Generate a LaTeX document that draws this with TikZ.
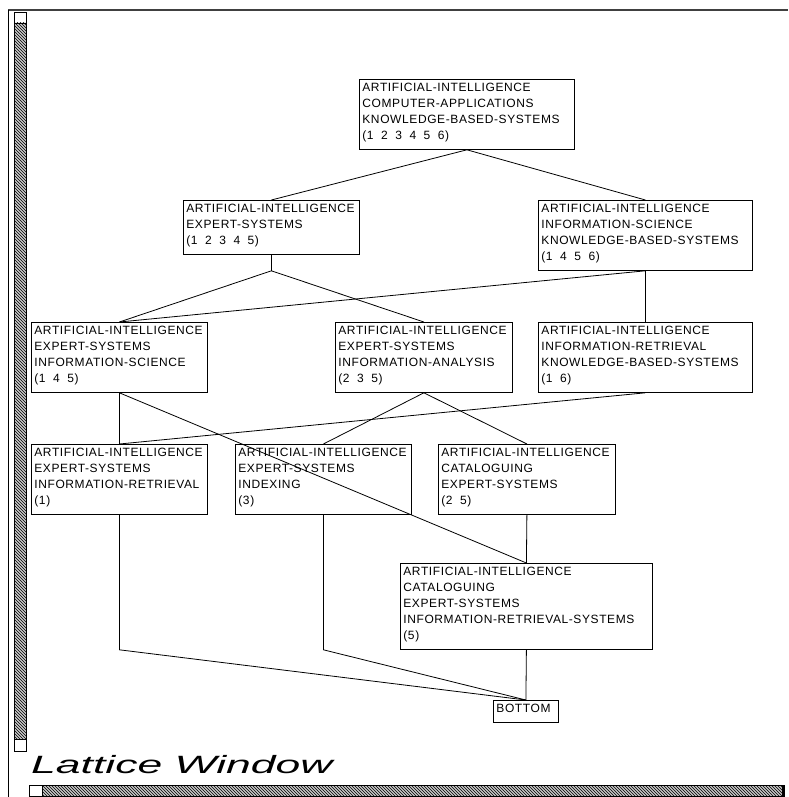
\documentclass[tikz,border=0pt]{standalone}
\usepackage{fontspec}
\setmainfont{Liberation Sans}
\newfontfamily\boxfont[LetterSpace=5]{Liberation Sans}
\newfontfamily\titlefont{Liberation Sans}
\usetikzlibrary{patterns}
\exhyphenpenalty=10000
\hyphenpenalty=10000
\newcommand\tstr{\rule{0pt}{12pt}}
\newcommand\bstr{\rule[-10pt]{0pt}{10pt}}
\newcommand\gp{\hspace{7.5pt}}
\tikzset{
  lbox/.style={draw, line width=0.8pt, anchor=north west, inner xsep=3pt, inner ysep=0pt,
    align=left, font=\boxfont\fontsize{12}{16}\selectfont,
    execute at begin node=\tstr, execute at end node=\bstr},
  edge/.style={line width=0.8pt},
  chrome/.style={line width=0.8pt},
  hatch/.style={chrome, preaction={fill=black!22}, pattern=north west lines},
}
\begin{document}
\begin{tikzpicture}[x=1pt,y=-1pt]
\useasboundingbox (0,0) rectangle (788,797);
% window chrome
\draw[line width=2pt, black!75] (8,10) -- (788,10);
\draw[chrome] (8.5,10) -- (8.5,797);
\draw[chrome] (14,12) rectangle (26,23);
\draw[hatch] (14,23) rectangle (26,739);
\draw[chrome] (14,739) rectangle (26,751);
\draw[chrome] (29,785) rectangle (42,796.6);
\draw[hatch] (42,785) rectangle (782,796.6);
\draw[line width=1.6pt] (784,785) -- (784,796.6);
\node[anchor=base west, inner sep=0pt, font=\titlefont\itshape\fontsize{25}{25}\selectfont] (title) at (31,773) {\scalebox{1.78}[1]{Lattice Window}};
% lattice boxes
\node[lbox, text width=209pt] (top) at (359,79)
  {ARTIFICIAL-INTELLIGENCE\\COMPUTER-APPLICATIONS\\KNOWLEDGE-BASED-SYSTEMS\\(1\gp 2\gp 3\gp 4\gp 5\gp 6)};
\node[lbox, text width=170pt] (e12345) at (183,200)
  {ARTIFICIAL-INTELLIGENCE\\EXPERT-SYSTEMS\\(1\gp 2\gp 3\gp 4\gp 5)};
\node[lbox, text width=208pt] (e1456) at (538,200)
  {ARTIFICIAL-INTELLIGENCE\\INFORMATION-SCIENCE\\KNOWLEDGE-BASED-SYSTEMS\\(1\gp 4\gp 5\gp 6)};
\node[lbox, text width=170pt] (e145) at (31,322)
  {ARTIFICIAL-INTELLIGENCE\\EXPERT-SYSTEMS\\INFORMATION-SCIENCE\\(1\gp 4\gp 5)};
\node[lbox, text width=171pt] (e235) at (335,322)
  {ARTIFICIAL-INTELLIGENCE\\EXPERT-SYSTEMS\\INFORMATION-ANALYSIS\\(2\gp 3\gp 5)};
\node[lbox, text width=208pt] (e16) at (538,322)
  {ARTIFICIAL-INTELLIGENCE\\INFORMATION-RETRIEVAL\\KNOWLEDGE-BASED-SYSTEMS\\(1\gp 6)};
\node[lbox, text width=170pt] (e1) at (31,444)
  {ARTIFICIAL-INTELLIGENCE\\EXPERT-SYSTEMS\\INFORMATION-RETRIEVAL\\(1)};
\node[lbox, text width=170pt] (e3) at (235,444)
  {ARTIFICIAL-INTELLIGENCE\\EXPERT-SYSTEMS\\INDEXING\\(3)};
\node[lbox, text width=171pt] (e25) at (438,444)
  {ARTIFICIAL-INTELLIGENCE\\CATALOGUING\\EXPERT-SYSTEMS\\(2\gp 5)};
\node[lbox, text width=246pt] (e5) at (400,563)
  {ARTIFICIAL-INTELLIGENCE\\CATALOGUING\\EXPERT-SYSTEMS\\INFORMATION-RETRIEVAL-SYSTEMS\\(5)};
\node[lbox, text width=59pt] (bot) at (493,700) {BOTTOM};
% connectors
\coordinate (k1) at (e12345.south |- e1456.south);
\coordinate (k2) at (e1.south |- e5.south);
\coordinate (k3) at (e3.south |- e5.south);
\draw[edge] (top.south) -- (e12345.north);
\draw[edge] (top.south) -- (e1456.north);
\draw[edge] (e12345.south) -- (k1) -- (e145.north);
\draw[edge] (k1) -- (e235.north);
\draw[edge] (e1456.south) -- (e145.north);
\draw[edge] (e1456.south) -- (e16.north);
\draw[edge] (e145.south) -- (e1.north);
\draw[edge] (e145.south) -- (e5.north);
\draw[edge] (e235.south) -- (e3.north);
\draw[edge] (e235.south) -- (e25.north);
\draw[edge] (e16.south) -- (e1.north);
\draw[edge] (e25.south) -- (e5.north);
\draw[edge] (e1.south) -- (k2) -- (bot.north);
\draw[edge] (e3.south) -- (k3) -- (bot.north);
\draw[edge] (e5.south) -- (bot.north);
\end{tikzpicture}
\end{document}
